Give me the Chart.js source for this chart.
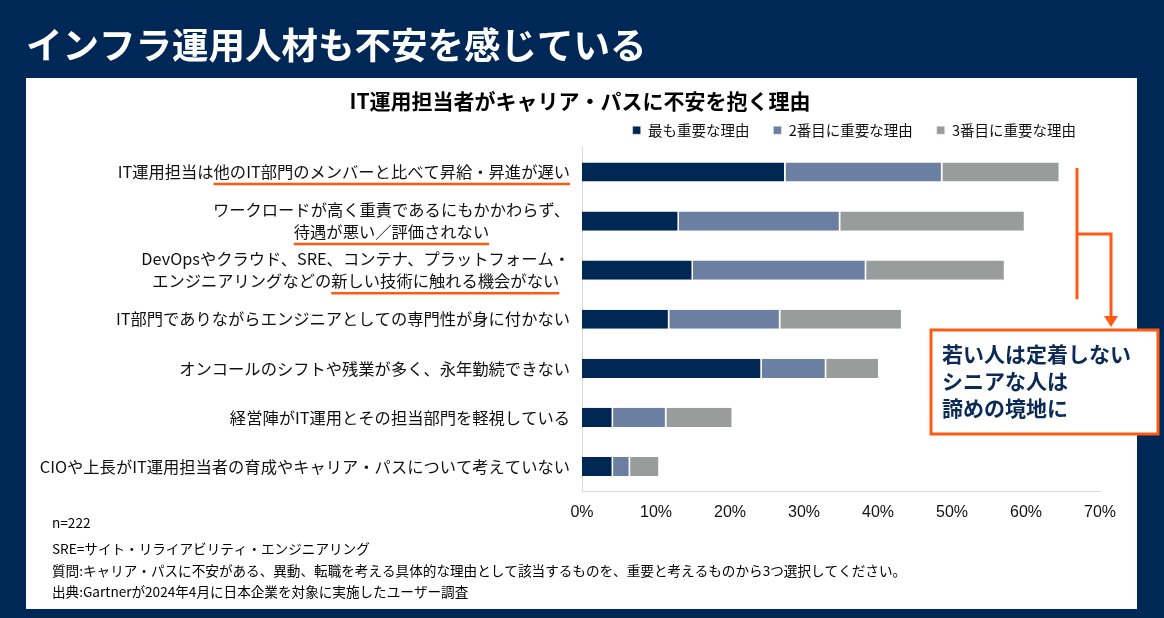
<!DOCTYPE html>
<html lang="ja">
<head>
<meta charset="utf-8">
<script src="https://cdn.jsdelivr.net/npm/chart.js@4.4.1/dist/chart.umd.min.js"></script>
<style>
  html, body { margin: 0; padding: 0; background: #002856; }
  #wrap { position: relative; width: 1164px; height: 618px; }
</style>
</head>
<body>
<div id="wrap"><canvas id="c" width="1164" height="618"></canvas></div>
<script>
  "use strict";

  // --- データ ---
  const categories = [
    "IT運用担当は他のIT部門のメンバーと比べて昇給・昇進が遅い",
    ["ワークロードが高く重責であるにもかかわらず、", "待遇が悪い／評価されない"],
    ["DevOpsやクラウド、SRE、コンテナ、プラットフォーム・", "エンジニアリングなどの新しい技術に触れる機会がない"],
    "IT部門でありながらエンジニアとしての専門性が身に付かない",
    "オンコールのシフトや残業が多く、永年勤続できない",
    "経営陣がIT運用とその担当部門を軽視している",
    "CIOや上長がIT運用担当者の育成やキャリア・パスについて考えていない",
  ];
  const seriesNames = ["最も重要な理由", "2番目に重要な理由", "3番目に重要な理由"];
  const firstReason = [27.5, 13.1, 15.0, 11.8, 24.3, 4.2, 4.2];
  const secondReason = [21.2, 21.8, 23.4, 15.0, 8.7, 7.2, 2.3];
  const thirdReason = [15.9, 25.0, 18.8, 16.5, 7.2, 9.0, 4.0];
  const xTicks = [0, 10, 20, 30, 40, 50, 60, 70];

  const pageTitle = "インフラ運用人材も不安を感じている";
  const chartTitle = "IT運用担当者がキャリア・パスに不安を抱く理由";
  const notes = [
    "n=222",
    "SRE=サイト・リライアビリティ・エンジニアリング",
    "質問:キャリア・パスに不安がある、異動、転職を考える具体的な理由として該当するものを、重要と考えるものから3つ選択してください。",
    "出典:Gartnerが2024年4月に日本企業を対象に実施したユーザー調査",
  ];
  const callout = ["若い人は定着しない", "シニアな人は", "諦めの境地に"];
  // 下線を引く部分（行, 行内の何行目, 文字列）
  const underlines = [
    { row: 0, line: 0, text: "他のIT部門のメンバーと比べて昇給・昇進が遅い" },
    { row: 1, line: 1, text: "待遇が悪い／評価されない" },
    { row: 2, line: 1, text: "新しい技術に触れる機会がない" },
  ];

  const NAVY = "#002856";
  const ORANGE = "#ff5a14";
  const JP = '"Noto Sans CJK JP", "Noto Sans", sans-serif';
  const LABEL_RIGHT = 570;
  const LINE_H = 22;

  function labelLayout(ctx, lines) {
    const widths = lines.map((s) => ctx.measureText(s).width);
    const maxW = Math.max.apply(null, widths);
    return { cx: LABEL_RIGHT - maxW / 2, widths };
  }

  const slidePlugin = {
    id: "slide",
    beforeDraw(chart) {
      const ctx = chart.ctx;
      ctx.save();
      ctx.fillStyle = NAVY;
      ctx.fillRect(0, 0, chart.width, chart.height);
      ctx.fillStyle = "#ffffff";
      ctx.fillRect(26, 78, 1111, 531);
      ctx.restore();
    },
    afterDraw(chart) {
      const ctx = chart.ctx;
      const ys = chart.scales.y;
      ctx.save();

      // 見出し
      ctx.fillStyle = "#ffffff";
      ctx.font = "bold 36.5px " + JP;
      ctx.textAlign = "left";
      ctx.textBaseline = "middle";
      ctx.fillText(pageTitle, 26, 45);

      ctx.fillStyle = "#000000";
      ctx.font = "bold 21px " + JP;
      ctx.textAlign = "center";
      ctx.fillText(chartTitle, 580, 101);

      // カテゴリ名（複数行は中央揃え、ブロックは右揃え）
      ctx.font = "16.3px " + JP;
      ctx.fillStyle = "#111111";
      ctx.textAlign = "center";
      categories.forEach(function (lab, i) {
        const lines = Array.isArray(lab) ? lab : [lab];
        const yc = ys.getPixelForValue(i);
        const lay = labelLayout(ctx, lines);
        lines.forEach(function (s, j) {
          const y = yc + (j - (lines.length - 1) / 2) * LINE_H;
          ctx.fillText(s, lay.cx, y);
        });
      });

      // 下線
      ctx.strokeStyle = ORANGE;
      ctx.lineWidth = 2.5;
      underlines.forEach(function (u) {
        const lab = categories[u.row];
        const lines = Array.isArray(lab) ? lab : [lab];
        const lay = labelLayout(ctx, lines);
        const s = lines[u.line];
        const start = lay.cx - lay.widths[u.line] / 2;
        const k = s.indexOf(u.text);
        const x0 = start + ctx.measureText(s.slice(0, k)).width;
        const x1 = x0 + ctx.measureText(u.text).width;
        const y = ys.getPixelForValue(u.row) + (u.line - (lines.length - 1) / 2) * LINE_H + 12;
        ctx.beginPath();
        ctx.moveTo(x0, y);
        ctx.lineTo(x1, y);
        ctx.stroke();
      });

      // 注記
      ctx.fillStyle = "#000000";
      ctx.font = "13.6px " + JP;
      ctx.textAlign = "left";
      [523, 549, 571, 592].forEach(function (y, i) {
        ctx.fillText(notes[i], 52, y);
      });

      // ブラケットと矢印
      const bx = 1077;
      const top = ys.getPixelForValue(0) - 4;
      const bot = ys.getPixelForValue(2) + 29;
      const mid = 234;
      ctx.lineWidth = 3;
      ctx.beginPath();
      ctx.moveTo(bx, top);
      ctx.lineTo(bx, bot);
      ctx.moveTo(bx, mid);
      ctx.lineTo(1111, mid);
      ctx.lineTo(1111, 318);
      ctx.stroke();
      ctx.fillStyle = ORANGE;
      ctx.beginPath();
      ctx.moveTo(1104, 316);
      ctx.lineTo(1118, 316);
      ctx.lineTo(1111, 327);
      ctx.closePath();
      ctx.fill();

      // 吹き出し
      ctx.fillStyle = "#ffffff";
      ctx.fillRect(931, 330, 227, 104);
      ctx.strokeStyle = ORANGE;
      ctx.lineWidth = 3;
      ctx.strokeRect(931, 330, 227, 104);
      ctx.fillStyle = "#0b2a57";
      ctx.font = "bold 21px " + JP;
      ctx.textAlign = "left";
      [354, 381, 408].forEach(function (y, i) {
        ctx.fillText(callout[i], 942, y);
      });

      ctx.restore();
    },
  };

  const colors = ["#002855", "#6a7fa2", "#989d9c"];
  const values = [firstReason, secondReason, thirdReason];

  new Chart(document.getElementById("c"), {
    type: "bar",
    data: {
      labels: categories,
      datasets: seriesNames.map(function (name, k) {
        return {
          label: name,
          data: values[k],
          backgroundColor: colors[k],
          borderColor: "#ffffff",
          borderWidth: { top: 0, right: 1.5, bottom: 0, left: 0 },
          borderSkipped: false,
          barPercentage: 0.39,
          categoryPercentage: 1.0,
        };
      }),
    },
    options: {
      indexAxis: "y",
      responsive: false,
      animation: false,
      devicePixelRatio: 1,
      layout: { padding: { top: 99, right: 64, bottom: 0, left: 0 } },
      plugins: {
        tooltip: { enabled: false },
        legend: {
          position: "top",
          align: "end",
          labels: {
            boxWidth: 8,
            boxHeight: 8,
            padding: 24,
            color: "#111111",
            font: { size: 14.5, family: JP },
          },
        },
      },
      scales: {
        x: {
          type: "linear",
          stacked: true,
          min: 0,
          max: 70,
          afterBuildTicks(s) {
            s.ticks = xTicks.map((v) => ({ value: v }));
          },
          afterFit(s) {
            s.height = 127;
          },
          grid: { display: false, drawTicks: false },
          border: { display: true, color: "#d9d9d9", width: 1 },
          ticks: {
            padding: 12,
            color: "#111111",
            font: { size: 16, family: '"Liberation Sans", Arial, sans-serif' },
            callback: (v) => v + "%",
          },
        },
        y: {
          stacked: true,
          afterFit(s) {
            s.width = 582;
          },
          grid: { display: false, drawTicks: false },
          border: { display: true, color: "#d9d9d9", width: 1 },
          ticks: { display: false },
        },
      },
    },
    plugins: [slidePlugin],
  });
</script>
</body>
</html>
